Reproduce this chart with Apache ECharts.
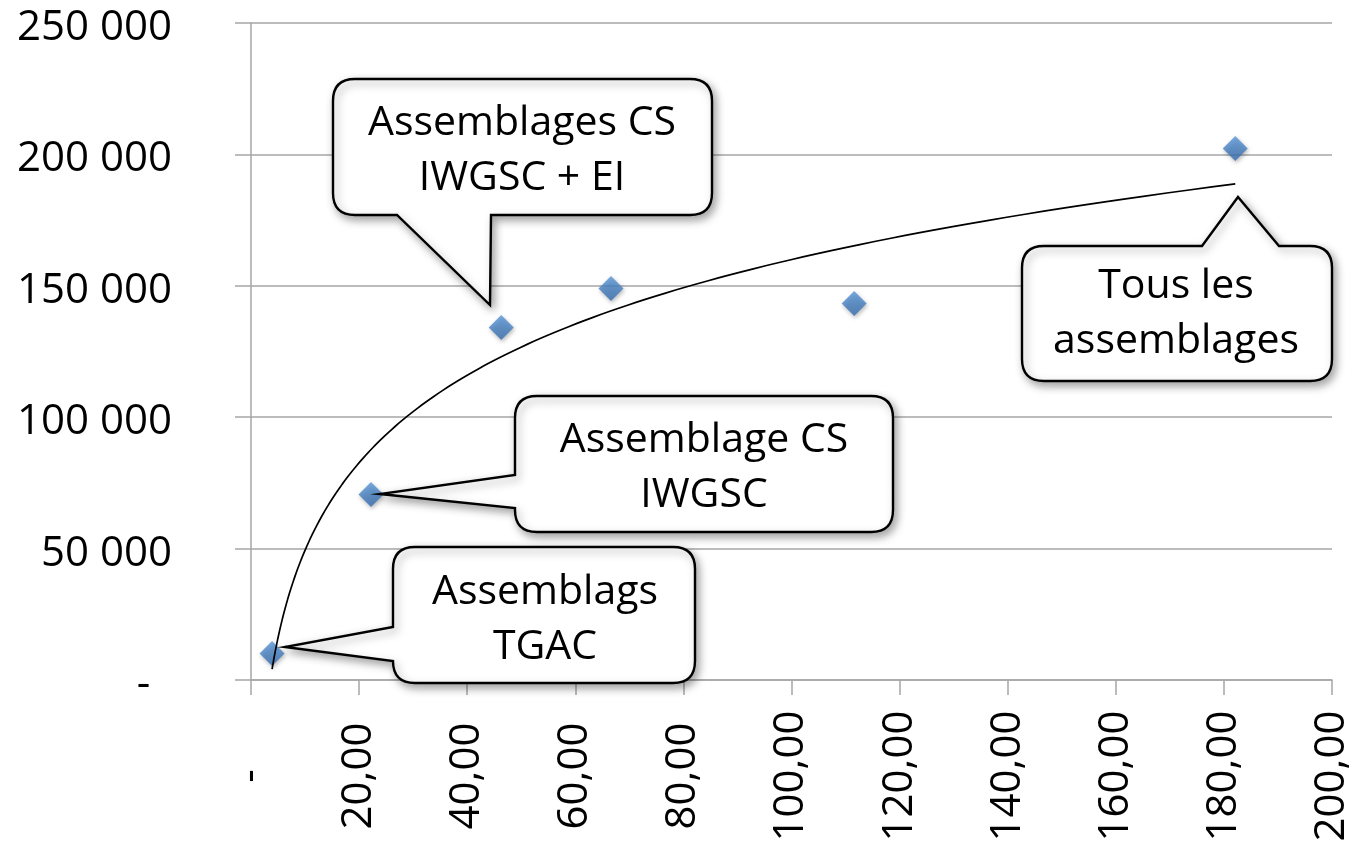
<!DOCTYPE html>
<html>
<head>
<meta charset="utf-8">
<script src="https://cdn.jsdelivr.net/npm/echarts@6/dist/echarts.min.js"></script>
<style>
  html, body { margin: 0; padding: 0; background: #ffffff; }
  #chart { width: 1365px; height: 855px; }
</style>
</head>
<body>
<div id="chart"></div>
<script>
// Assembly size (x) against number of elements (y)
const sizes  = [3.9, 22.2, 46.3, 66.6, 111.6, 182.1];
const counts = [10100, 70600, 134100, 149000, 143300, 202200];

// Axis tick labels (accounting style: zero shown as a dash)
const xTickValues = [0, 20, 40, 60, 80, 100, 120, 140, 160, 180, 200];
const xTickLabels = ['-', '20,00', '40,00', '60,00', '80,00', '100,00', '120,00', '140,00', '160,00', '180,00', '200,00'];
const yTickValues = [0, 50000, 100000, 150000, 200000, 250000];
const yTickLabels = ['-  ', '50 000', '100 000', '150 000', '200 000', '250 000'];

// Callout texts and the point each one refers to
const calloutTexts  = ['Assemblags\nTGAC', 'Assemblage CS\nIWGSC', 'Assemblages CS\nIWGSC + EI', 'Tous les\nassemblages'];
const calloutPoints = [0, 1, 2, 5];

// Callout geometry, in pixels relative to the referenced point
const calloutLayout = [
  { box: [121, -106, 423, 30],    side: 'left',   base: [-26, 8],    tip: [13, -6],   text: [273, -33] },
  { box: [144, -98, 522, 38],     side: 'left',   base: [-19, 14],   tip: [9, 0],     text: [333, -26] },
  { box: [-168, -249, 211, -113], side: 'bottom', base: [-104, -10], tip: [-11, -23], text: [21, -177] },
  { box: [-213, 97, 97, 232],     side: 'top',    base: [-33, 44],   tip: [3, 48],    text: [-59, 165] }
];

// Logarithmic trend line: least-squares fit of y = a*ln(x) + b
const lnX = sizes.map(Math.log);
const mLn = lnX.reduce((s, v) => s + v, 0) / lnX.length;
const mY = counts.reduce((s, v) => s + v, 0) / counts.length;
let sxy = 0, sxx = 0;
lnX.forEach((v, i) => { sxy += (v - mLn) * (counts[i] - mY); sxx += (v - mLn) * (v - mLn); });
const slope = sxy / sxx;
const intercept = mY - slope * mLn;
const xMin = Math.min(...sizes), xMax = Math.max(...sizes);
const trend = [];
for (let i = 0; i <= 160; i++) {
  const x = xMin * Math.pow(xMax / xMin, i / 160);
  trend.push([x, slope * Math.log(x) + intercept]);
}

const points = sizes.map((x, i) => [x, counts[i]]);

const FONT = '"Open Sans", "DejaVu Sans", sans-serif';
const GRID = '#a6a6a6';

// Rounded speech bubble with a pointer on one side
const Bubble = echarts.graphic.extendShape({
  type: 'bubble',
  shape: { x0: 0, y0: 0, x1: 0, y1: 0, r: 22, side: 'left', b0: 0, b1: 0, tx: 0, ty: 0 },
  buildPath: function (ctx, s) {
    const { x0, y0, x1, y1, r, side, b0, b1, tx, ty } = s;
    ctx.moveTo(x0 + r, y0);
    if (side === 'top') { ctx.lineTo(b0, y0); ctx.lineTo(tx, ty); ctx.lineTo(b1, y0); }
    ctx.lineTo(x1 - r, y0);
    ctx.quadraticCurveTo(x1, y0, x1, y0 + r);
    ctx.lineTo(x1, y1 - r);
    ctx.quadraticCurveTo(x1, y1, x1 - r, y1);
    if (side === 'bottom') { ctx.lineTo(b1, y1); ctx.lineTo(tx, ty); ctx.lineTo(b0, y1); }
    ctx.lineTo(x0 + r, y1);
    ctx.quadraticCurveTo(x0, y1, x0, y1 - r);
    if (side === 'left') { ctx.lineTo(x0, b1); ctx.lineTo(tx, ty); ctx.lineTo(x0, b0); }
    ctx.lineTo(x0, y0 + r);
    ctx.quadraticCurveTo(x0, y0, x0 + r, y0);
    ctx.closePath();
  }
});
echarts.graphic.registerShape('bubble', Bubble);

const chart = echarts.init(document.getElementById('chart'), null, { renderer: 'canvas' });

chart.setOption({
  animation: false,
  backgroundColor: '#ffffff',
  grid: { left: 251, right: 33, top: 23, bottom: 175, containLabel: false },
  xAxis: {
    type: 'value', min: 0, max: 200, interval: 20,
    axisLine: { show: true, lineStyle: { color: GRID, width: 1.5 } },
    axisTick: { show: true, length: 15, lineStyle: { color: GRID, width: 1.5 } },
    splitLine: { show: false },
    axisLabel: {
      rotate: 90, align: 'center', verticalAlign: 'middle', margin: 96,
      fontFamily: FONT, fontSize: 42, color: '#000',
      formatter: v => { const k = xTickValues.indexOf(v); return k >= 0 ? xTickLabels[k] : ''; }
    }
  },
  yAxis: {
    type: 'value', min: 0, max: 250000, interval: 50000,
    axisLine: { show: true, lineStyle: { color: GRID, width: 1.5 } },
    axisTick: { show: true, length: 16, lineStyle: { color: GRID, width: 1.5 } },
    splitLine: { show: true, lineStyle: { color: GRID, width: 1.5 } },
    axisLabel: {
      margin: 79, fontFamily: FONT, fontSize: 42, color: '#000',
      verticalAlign: 'top', lineHeight: 10,
      formatter: v => { const k = yTickValues.indexOf(v); return k >= 0 ? yTickLabels[k] : ''; }
    }
  },
  series: [
    {
      type: 'scatter',
      data: points,
      symbol: 'diamond',
      symbolSize: 25,
      z: 3,
      itemStyle: {
        color: new echarts.graphic.LinearGradient(0, 0, 0, 1, [
          { offset: 0, color: '#5896d8' },
          { offset: 1, color: '#356cae' }
        ]),
        shadowBlur: 4, shadowOffsetX: 1, shadowOffsetY: 2, shadowColor: 'rgba(0,0,0,0.35)'
      }
    },
    {
      type: 'line',
      data: trend,
      showSymbol: false,
      symbol: 'none',
      z: 4,
      lineStyle: { color: '#000', width: 1.7 }
    }
  ]
});

const elements = [];
calloutTexts.forEach((txt, i) => {
  const p = chart.convertToPixel({ seriesIndex: 0 }, points[calloutPoints[i]]);
  const L = calloutLayout[i];
  const px = Math.round(p[0]), py = Math.round(p[1]);
  const onLeft = L.side === 'left';
  elements.push({
    type: 'bubble', z: 100,
    shape: {
      x0: px + L.box[0], y0: py + L.box[1], x1: px + L.box[2], y1: py + L.box[3], r: 22,
      side: L.side,
      b0: (onLeft ? py : px) + L.base[0],
      b1: (onLeft ? py : px) + L.base[1],
      tx: px + L.tip[0], ty: py + L.tip[1]
    },
    style: {
      fill: '#ffffff', stroke: '#000000', lineWidth: 2.4,
      shadowBlur: 8, shadowOffsetX: 3, shadowOffsetY: 4, shadowColor: 'rgba(0,0,0,0.35)'
    }
  });
  elements.push({
    type: 'text', z: 101,
    x: px + L.text[0], y: py + L.text[1],
    style: {
      text: txt, font: '41px ' + FONT, fill: '#000',
      textAlign: 'center', textVerticalAlign: 'middle',
      align: 'center', verticalAlign: 'middle', lineHeight: 55
    }
  });
});

chart.setOption({ graphic: { elements: elements } });
</script>
</body>
</html>
